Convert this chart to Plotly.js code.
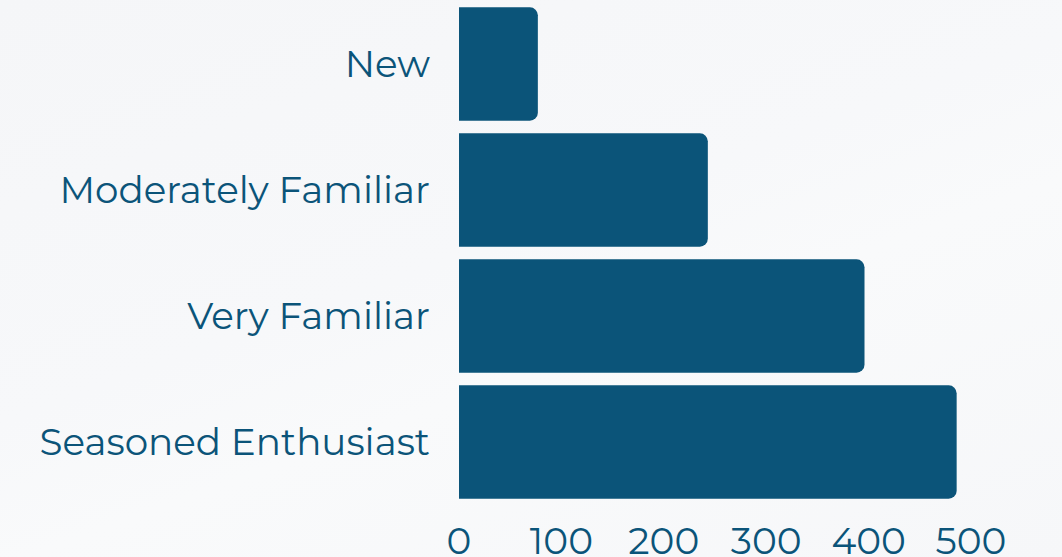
<!DOCTYPE html>
<html>
<head>
<meta charset="utf-8">
<script src="https://cdn.plot.ly/plotly-3.0.1.min.js"></script>
<style>
  html, body { margin:0; padding:0; }
  body { background: linear-gradient(160deg, #f5f6f8 0%, #f7f8fa 45%, #f9fafb 60%, #f6f7f9 100%); }
  #chart { width:1062px; height:557px; }
</style>
</head>
<body>
<div id="chart"></div>
<script>
const categories = ['New', 'Moderately Familiar', 'Very Familiar', 'Seasoned Enthusiast'];
const counts = [77, 243, 396, 486];
const tickValues = [0, 100, 200, 300, 400, 500];

const barColor = '#0b5479';
const textColor = '#0b5479';

Plotly.newPlot('chart', [{
  type: 'bar',
  orientation: 'h',
  x: counts,
  y: categories,
  marker: { color: barColor },
  hoverinfo: 'x+y'
}], {
  width: 1062, height: 557,
  paper_bgcolor: 'rgba(0,0,0,0)',
  plot_bgcolor: 'rgba(0,0,0,0)',
  margin: { l: 459, r: 91, t: 1, b: 52 },
  bargap: 0.1,
  barcornerradius: 8,
  font: { family: 'Montserrat, "Open Sans", sans-serif', size: 37, color: textColor },
  xaxis: {
    range: [0, 500],
    tickvals: tickValues,
    showgrid: false, zeroline: false, showline: false,
    ticks: '', ticklabelstandoff: 10,
    tickfont: { size: 37.5, color: textColor }
  },
  yaxis: {
    autorange: 'reversed',
    showgrid: false, zeroline: false, showline: false,
    ticks: '', ticklabelstandoff: 28,
    tickfont: { size: 37.3, color: textColor }
  },
  showlegend: false
}, { displayModeBar: false, staticPlot: false });
</script>
</body>
</html>
